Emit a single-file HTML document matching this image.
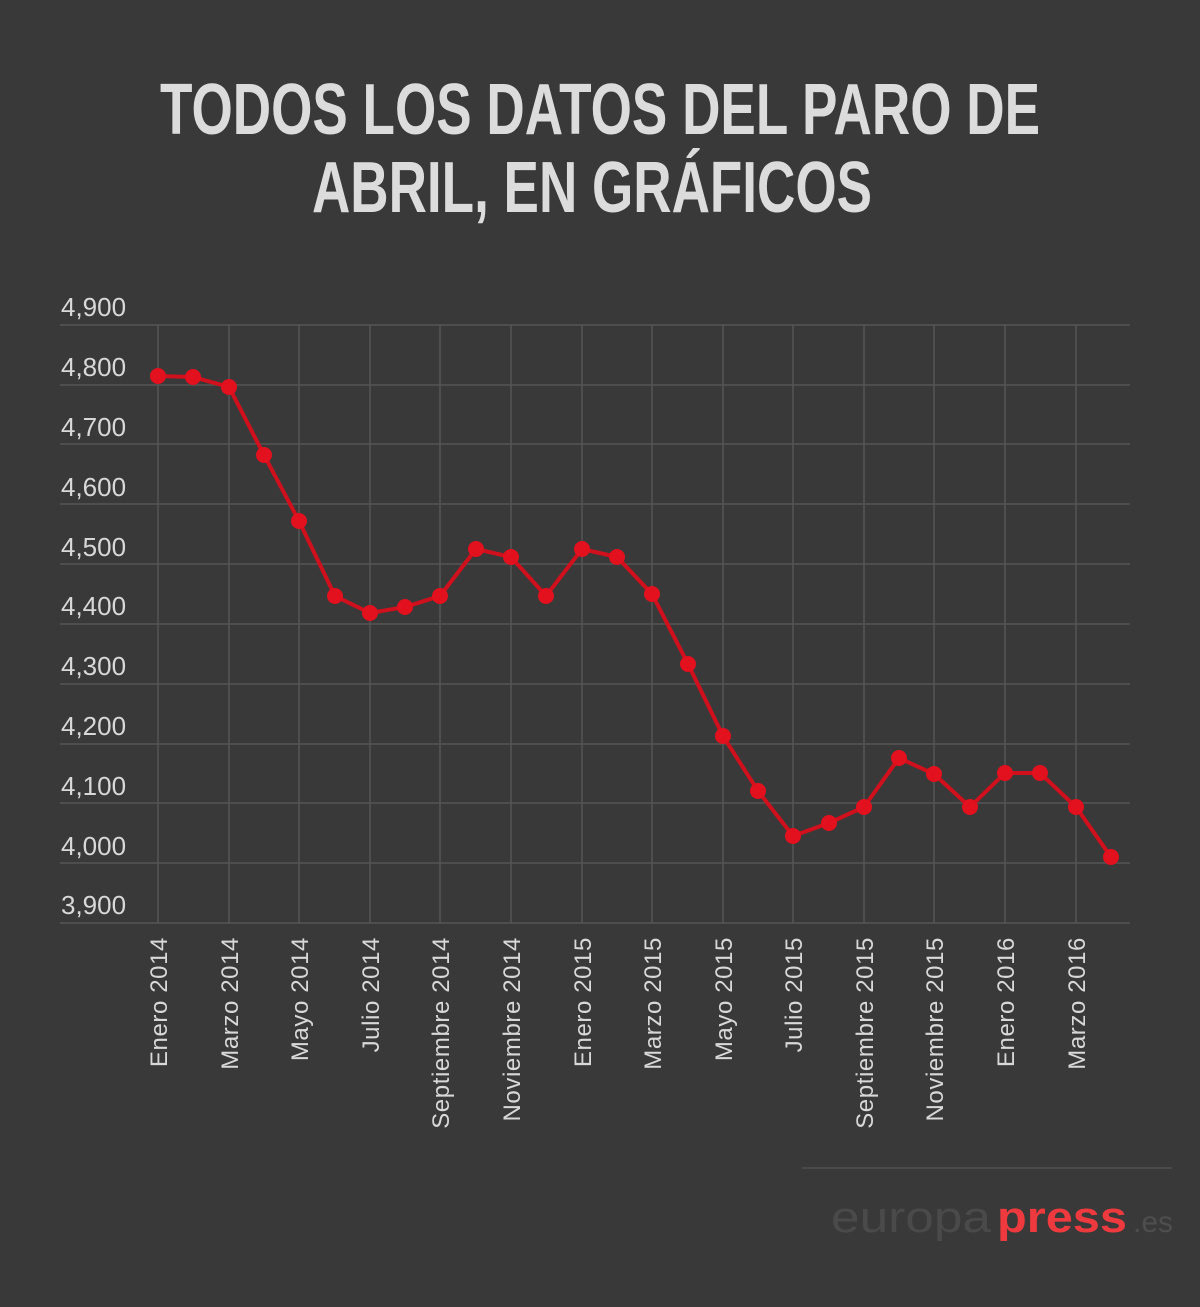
<!DOCTYPE html>
<html><head><meta charset="utf-8"><style>
html,body{margin:0;padding:0;background:#393939;}
svg{display:block}
</style></head><body>
<svg width="1200" height="1307" viewBox="0 0 1200 1307" xmlns="http://www.w3.org/2000/svg">
<rect width="1200" height="1307" fill="#393939"/>
<g font-family="'Liberation Sans Narrow','Liberation Sans',sans-serif" font-weight="bold" font-size="72" fill="#dcdcdc" text-anchor="middle">
<text x="600" y="134" textLength="880" lengthAdjust="spacingAndGlyphs">TODOS LOS DATOS DEL PARO DE</text>
<text x="592" y="212" textLength="560" lengthAdjust="spacingAndGlyphs">ABRIL, EN GRÁFICOS</text>
</g>
<g stroke="#555" stroke-width="1.5">
<line x1="60" y1="325" x2="1130" y2="325"/><line x1="60" y1="385" x2="1130" y2="385"/>
<line x1="60" y1="444" x2="1130" y2="444"/><line x1="60" y1="504" x2="1130" y2="504"/>
<line x1="60" y1="564" x2="1130" y2="564"/><line x1="60" y1="624" x2="1130" y2="624"/>
<line x1="60" y1="684" x2="1130" y2="684"/><line x1="60" y1="744" x2="1130" y2="744"/>
<line x1="60" y1="803" x2="1130" y2="803"/><line x1="60" y1="863" x2="1130" y2="863"/>
<line x1="60" y1="923" x2="1130" y2="923"/>
<line x1="158" y1="325" x2="158" y2="923"/><line x1="229" y1="325" x2="229" y2="923"/>
<line x1="299" y1="325" x2="299" y2="923"/><line x1="370" y1="325" x2="370" y2="923"/>
<line x1="440" y1="325" x2="440" y2="923"/><line x1="511" y1="325" x2="511" y2="923"/>
<line x1="582" y1="325" x2="582" y2="923"/><line x1="652" y1="325" x2="652" y2="923"/>
<line x1="723" y1="325" x2="723" y2="923"/><line x1="793" y1="325" x2="793" y2="923"/>
<line x1="864" y1="325" x2="864" y2="923"/><line x1="934" y1="325" x2="934" y2="923"/>
<line x1="1005" y1="325" x2="1005" y2="923"/><line x1="1076" y1="325" x2="1076" y2="923"/>
</g>
<g font-family="'Liberation Sans',sans-serif" font-size="26" fill="#d8d8d8">
<text x="61" y="316">4,900</text><text x="61" y="376">4,800</text><text x="61" y="436">4,700</text>
<text x="61" y="496">4,600</text><text x="61" y="556">4,500</text><text x="61" y="615">4,400</text>
<text x="61" y="675">4,300</text><text x="61" y="735">4,200</text><text x="61" y="795">4,100</text>
<text x="61" y="855">4,000</text><text x="61" y="914">3,900</text>
</g>
<g font-family="'Liberation Sans',sans-serif" font-size="24" letter-spacing="0.6" fill="#d8d8d8" text-anchor="end">
<text transform="translate(167,937) rotate(-90)">Enero 2014</text>
<text transform="translate(238,937) rotate(-90)">Marzo 2014</text>
<text transform="translate(308,937) rotate(-90)">Mayo 2014</text>
<text transform="translate(379,937) rotate(-90)">Julio 2014</text>
<text transform="translate(449,937) rotate(-90)">Septiembre 2014</text>
<text transform="translate(520,937) rotate(-90)">Noviembre 2014</text>
<text transform="translate(591,937) rotate(-90)">Enero 2015</text>
<text transform="translate(661,937) rotate(-90)">Marzo 2015</text>
<text transform="translate(732,937) rotate(-90)">Mayo 2015</text>
<text transform="translate(802,937) rotate(-90)">Julio 2015</text>
<text transform="translate(873,937) rotate(-90)">Septiembre 2015</text>
<text transform="translate(943,937) rotate(-90)">Noviembre 2015</text>
<text transform="translate(1014,937) rotate(-90)">Enero 2016</text>
<text transform="translate(1085,937) rotate(-90)">Marzo 2016</text>
</g>
<polyline fill="none" stroke="#d0101c" stroke-width="4" points="158,376 193,377 229,387 264,455 299,521 335,596 370,613 405,607 440,596 476,549 511,557 546,596 582,549 617,557 652,594 688,664 723,736 758,791 793,836 829,823 864,807 899,758 934,774 970,807 1005,773 1040,773 1076,807 1111,857"/>
<g fill="#e3101e">
<circle cx="158" cy="376" r="8"/><circle cx="193" cy="377" r="8"/><circle cx="229" cy="387" r="8"/>
<circle cx="264" cy="455" r="8"/><circle cx="299" cy="521" r="8"/><circle cx="335" cy="596" r="8"/>
<circle cx="370" cy="613" r="8"/><circle cx="405" cy="607" r="8"/><circle cx="440" cy="596" r="8"/>
<circle cx="476" cy="549" r="8"/><circle cx="511" cy="557" r="8"/><circle cx="546" cy="596" r="8"/>
<circle cx="582" cy="549" r="8"/><circle cx="617" cy="557" r="8"/><circle cx="652" cy="594" r="8"/>
<circle cx="688" cy="664" r="8"/><circle cx="723" cy="736" r="8"/><circle cx="758" cy="791" r="8"/>
<circle cx="793" cy="836" r="8"/><circle cx="829" cy="823" r="8"/><circle cx="864" cy="807" r="8"/>
<circle cx="899" cy="758" r="8"/><circle cx="934" cy="774" r="8"/><circle cx="970" cy="807" r="8"/>
<circle cx="1005" cy="773" r="8"/><circle cx="1040" cy="773" r="8"/><circle cx="1076" cy="807" r="8"/>
<circle cx="1111" cy="857" r="8"/>
</g>
<line x1="802" y1="1168" x2="1172" y2="1168" stroke="#4a4a4a" stroke-width="2"/>
<g font-family="'Liberation Sans',sans-serif" font-size="44">
<text x="831" y="1232" fill="#4a4a4a" textLength="160" lengthAdjust="spacingAndGlyphs">europa</text>
<text x="997" y="1232" fill="#ee3a3e" font-weight="bold" textLength="130" lengthAdjust="spacingAndGlyphs">press</text>
<text x="1133" y="1232" fill="#4e4e4e" font-size="30">.es</text>
</g>
</svg>
</body></html>
